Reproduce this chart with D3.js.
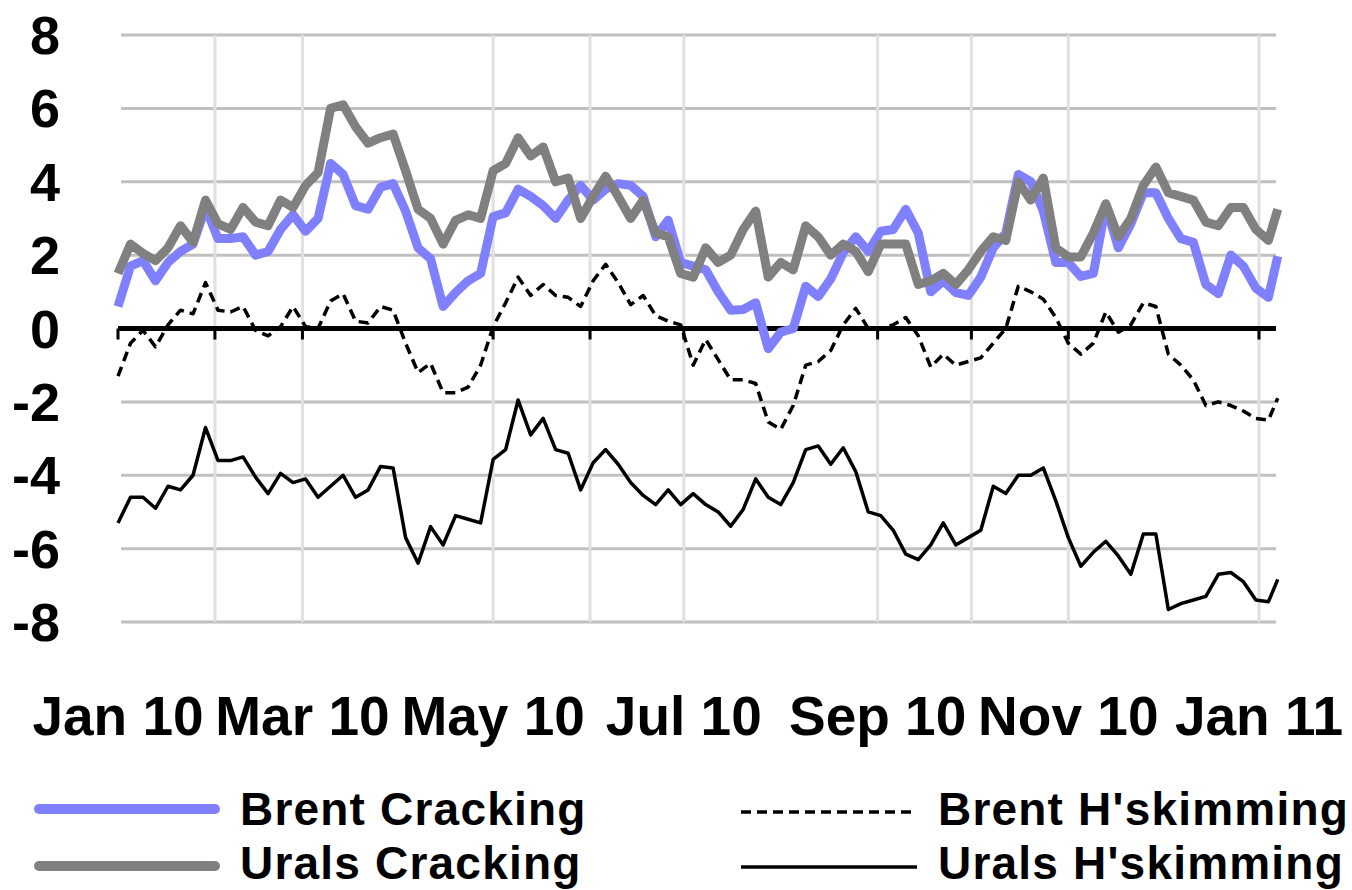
<!DOCTYPE html>
<html>
<head>
<meta charset="utf-8">
<script src="https://cdn.jsdelivr.net/npm/d3@7"></script>
<style>
  body { margin: 0; background: #fff; }
  svg { display: block; font-family: "Liberation Sans", Arial, sans-serif; font-weight: bold; }
</style>
</head>
<body>
<div id="chart"></div>
<script>
// days counted from 1 Jan 2010
const dayOffsets = [0,4,8,12,16,20,24,28,32,36,40,44,48,52,56,60,64,68,72,76,80,84,88,92,96,100,
  104,108,112,116,120,124,128,132,136,140,144,148,152,156,160,164,168,172,176,180,184,188,192,196,
  200,204,208,212,216,220,224,228,232,236,240,244,248,252,256,260,264,268,272,276,280,284,288,292,
  296,300,304,308,312,316,320,324,328,332,336,340,344,348,352,356,360,364,368,371];

const brentCracking = [0.6,1.7,1.85,1.3,1.8,2.1,2.3,3.3,2.45,2.45,2.5,2.0,2.1,2.7,3.1,2.65,3.0,4.5,4.2,3.35,
  3.25,3.85,3.95,3.2,2.2,1.9,0.6,0.98,1.3,1.5,3.05,3.15,3.8,3.6,3.35,3.0,3.5,3.9,3.5,3.8,
  3.95,3.9,3.6,2.5,2.95,1.8,1.7,1.6,1.0,0.5,0.52,0.7,-0.55,-0.1,0.0,1.15,0.87,1.35,2.07,2.5,
  2.1,2.65,2.7,3.25,2.6,1.0,1.3,0.98,0.9,1.4,2.2,2.6,4.2,4.0,3.2,1.8,1.8,1.42,1.5,3.35,
  2.2,2.85,3.7,3.7,3.0,2.45,2.35,1.2,0.95,2.0,1.7,1.1,0.85,1.97];

const uralsCracking = [1.5,2.3,2.05,1.85,2.2,2.8,2.35,3.5,2.85,2.7,3.3,2.9,2.8,3.5,3.3,3.9,4.25,6.0,6.1,5.5,
  5.05,5.2,5.3,4.3,3.25,3.0,2.3,2.95,3.1,3.0,4.3,4.5,5.2,4.7,4.95,4.0,4.1,3.0,3.6,4.15,
  3.6,3.0,3.5,2.6,2.5,1.5,1.4,2.2,1.8,2.0,2.7,3.2,1.4,1.8,1.6,2.8,2.5,2.0,2.3,2.1,
  1.55,2.3,2.3,2.3,1.2,1.3,1.5,1.2,1.6,2.1,2.5,2.4,4.0,3.5,4.1,2.2,1.95,1.95,2.6,3.4,
  2.5,3.0,3.9,4.4,3.7,3.6,3.5,2.9,2.8,3.3,3.3,2.7,2.4,3.25];

const brentHskimming = [-1.3,-0.4,-0.05,-0.5,0.1,0.5,0.4,1.25,0.5,0.45,0.6,-0.05,-0.2,0.05,0.6,0.05,0.0,0.75,0.95,0.2,
  0.15,0.6,0.5,-0.4,-1.2,-0.95,-1.75,-1.75,-1.6,-1.0,0.05,0.7,1.4,0.9,1.2,0.9,0.85,0.6,1.3,1.75,
  1.25,0.65,0.9,0.35,0.2,0.1,-1.0,-0.3,-0.85,-1.4,-1.4,-1.5,-2.55,-2.75,-2.1,-1.0,-0.9,-0.6,0.1,0.55,
  0.0,0.0,0.1,0.3,-0.2,-1.05,-0.7,-1.0,-0.9,-0.8,-0.4,0.0,1.15,1.0,0.8,0.3,-0.4,-0.7,-0.4,0.45,
  -0.1,0.1,0.7,0.6,-0.7,-1.0,-1.4,-2.1,-2.0,-2.1,-2.25,-2.45,-2.5,-1.9];

const uralsHskimming = [-5.3,-4.6,-4.6,-4.9,-4.3,-4.4,-4.0,-2.7,-3.6,-3.6,-3.5,-4.05,-4.5,-3.95,-4.2,-4.1,-4.6,-4.3,-4.0,-4.6,
  -4.4,-3.76,-3.8,-5.7,-6.4,-5.4,-5.9,-5.1,-5.2,-5.3,-3.57,-3.3,-1.95,-2.9,-2.45,-3.3,-3.4,-4.4,-3.66,-3.3,
  -3.7,-4.2,-4.55,-4.8,-4.4,-4.8,-4.5,-4.8,-5.0,-5.39,-4.93,-4.1,-4.6,-4.8,-4.2,-3.3,-3.2,-3.7,-3.25,-3.9,
  -5.0,-5.1,-5.5,-6.15,-6.3,-5.9,-5.3,-5.9,-5.7,-5.5,-4.3,-4.5,-4.0,-4.0,-3.8,-4.7,-5.7,-6.48,-6.1,-5.8,
  -6.2,-6.7,-5.6,-5.6,-7.66,-7.5,-7.4,-7.3,-6.7,-6.65,-6.9,-7.4,-7.45,-6.84];

const yTicks = [8, 6, 4, 2, 0, -2, -4, -6, -8];
const gridMonths = ["2010-02-01","2010-03-01","2010-05-01","2010-06-01","2010-07-01","2010-09-01","2010-10-01","2010-11-01","2011-01-01"];
const labelMonths = ["2010-01-01","2010-03-01","2010-05-01","2010-07-01","2010-09-01","2010-11-01","2011-01-01"];
const monthLabels = ["Jan 10","Mar 10","May 10","Jul 10","Sep 10","Nov 10","Jan 11"];

const seriesList = [
  { name: "Brent Cracking", values: brentCracking, color: "#8080ff", width: 9, dash: null },
  { name: "Urals Cracking", values: uralsCracking, color: "#808080", width: 9, dash: null },
  { name: "Brent H'skimming", values: brentHskimming, color: "#000", width: 3.5, dash: "10,6" },
  { name: "Urals H'skimming", values: uralsHskimming, color: "#000", width: 3.5, dash: null }
];

const width = 1352, height = 890;
const start = new Date(2010, 0, 1);
const parse = d3.timeParse("%Y-%m-%d");
const dates = dayOffsets.map(d => d3.timeDay.offset(start, d));

const svg = d3.select("#chart").append("svg")
  .attr("width", width)
  .attr("height", height);

const x = d3.scaleTime().domain([start, new Date(2011, 0, 1)]).range([118, 1259]);
const y = d3.scaleLinear().domain([-8, 8]).range([622, 35]);
const plotRight = 1276;

// horizontal grid
svg.append("g").selectAll("line")
  .data(yTicks.filter(v => v !== 0))
  .enter().append("line")
  .attr("x1", 121).attr("x2", plotRight)
  .attr("y1", d => y(d)).attr("y2", d => y(d))
  .attr("stroke", "#c0c0c0").attr("stroke-width", 3);

// vertical grid
svg.append("g").selectAll("line")
  .data(gridMonths.map(parse))
  .enter().append("line")
  .attr("x1", d => x(d)).attr("x2", d => x(d))
  .attr("y1", y(8)).attr("y2", y(-8))
  .attr("stroke", "#e0e0e0").attr("stroke-width", 3);

// zero axis with ticks
svg.append("line")
  .attr("x1", 118).attr("x2", plotRight)
  .attr("y1", y(0)).attr("y2", y(0))
  .attr("stroke", "#000").attr("stroke-width", 5);

svg.append("g").selectAll("line")
  .data([start].concat(gridMonths.map(parse)))
  .enter().append("line")
  .attr("x1", d => x(d)).attr("x2", d => x(d))
  .attr("y1", y(0)).attr("y2", y(0) + 11)
  .attr("stroke", "#000").attr("stroke-width", 3);

// y labels
svg.append("g").selectAll("text")
  .data(yTicks)
  .enter().append("text")
  .attr("x", 60)
  .attr("y", d => y(d) + 19)
  .attr("text-anchor", "end")
  .attr("font-size", 54)
  .text(d => d);

// x labels
svg.append("g").selectAll("text")
  .data(labelMonths)
  .enter().append("text")
  .attr("x", d => x(parse(d)))
  .attr("y", 735)
  .attr("text-anchor", "middle")
  .attr("font-size", 55)
  .text((d, i) => monthLabels[i]);

// series
const line = d3.line()
  .x((d, i) => x(dates[i]))
  .y(d => y(d));

seriesList.forEach(s => {
  svg.append("path")
    .datum(s.values)
    .attr("d", line)
    .attr("fill", "none")
    .attr("stroke", s.color)
    .attr("stroke-width", s.width)
    .attr("stroke-linejoin", "round")
    .attr("stroke-dasharray", s.dash);
});

// legend
const legendPos = [
  { lx: 39, tx: 240, ly: 809, ty: 825 },
  { lx: 39, tx: 240, ly: 866, ty: 879 },
  { lx: 741, tx: 938, ly: 812, ty: 825 },
  { lx: 741, tx: 938, ly: 867, ty: 879 }
];
seriesList.forEach((s, i) => {
  const p = legendPos[i];
  svg.append("line")
    .attr("x1", p.lx).attr("x2", p.lx + 176)
    .attr("y1", p.ly).attr("y2", p.ly)
    .attr("stroke", s.color)
    .attr("stroke-width", s.width === 9 ? 10 : 3.5)
    .attr("stroke-linecap", s.width === 9 ? "round" : "butt")
    .attr("stroke-dasharray", s.dash);
  svg.append("text")
    .attr("x", p.tx).attr("y", p.ty)
    .attr("font-size", 46)
    .attr("letter-spacing", 1.2)
    .text(s.name);
});
</script>
</body>
</html>
